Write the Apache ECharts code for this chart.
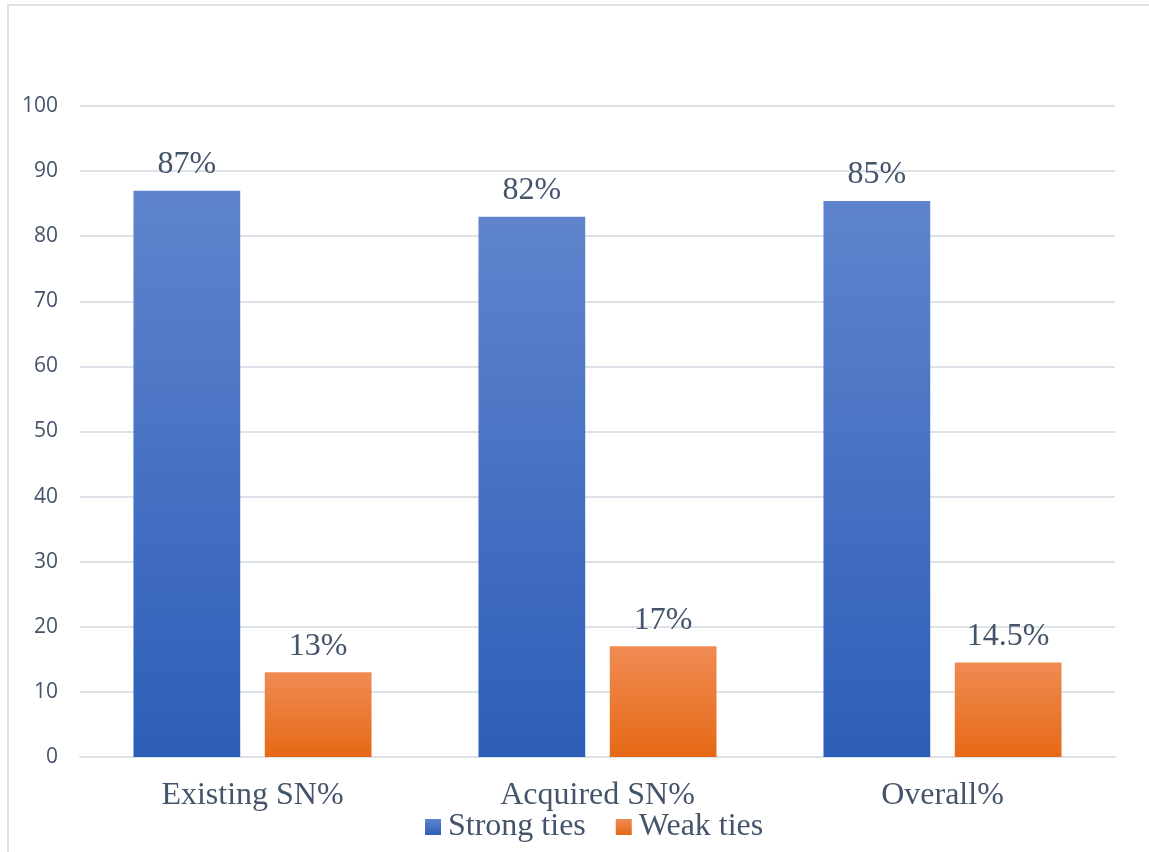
<!DOCTYPE html>
<html>
<head>
<meta charset="utf-8">
<script src="https://cdn.jsdelivr.net/npm/echarts@6/dist/echarts.min.js"></script>
<style>
  html, body { margin: 0; padding: 0; background: #fff; }
  #chart { width: 1149px; height: 852px; }
</style>
</head>
<body>
<div id="chart"></div>
<script>
const categories = ["Existing SN%", "Acquired SN%", "Overall%"];
const strongTies = [87, 83, 85.4];
const weakTies = [13, 17, 14.5];
const strongLabels = ["87%", "82%", "85%"];
const weakLabels = ["13%", "17%", "14.5%"];

const serif = "'Liberation Serif', 'DejaVu Serif', serif";
const textColor = "#44546a";

const chart = echarts.init(document.getElementById("chart"));

const option = {
    animation: false,
    // 外框
    graphic: [{
        type: "rect",
        shape: { x: 8, y: 5, width: 1200, height: 900 },
        style: { fill: "none", stroke: "#dde1e8", lineWidth: 2 },
        silent: true
    }],
    grid: {
        left: 80,
        right: 34,
        top: 106,
        bottom: 95,
        containLabel: false
    },
    legend: {
        bottom: 4,
        left: 420,
        itemWidth: 16,
        itemHeight: 16,
        itemGap: 30,
        icon: "rect",
        textStyle: { fontFamily: serif, fontSize: 32, color: textColor, padding: [0, 0, 0, 2] },
        data: ["Strong ties", "Weak ties"]
    },
    xAxis: {
        type: "category",
        data: categories,
        axisLine: { lineStyle: { color: "#dde1e8", width: 2 } },
        axisTick: { show: false },
        axisLabel: {
            fontFamily: serif,
            fontSize: 32,
            color: textColor,
            margin: 23
        }
    },
    yAxis: {
        type: "value",
        min: 0,
        max: 100,
        interval: 10,
        axisLine: { show: false },
        axisTick: { show: false },
        axisLabel: {
            fontFamily: "'Open Sans', 'DejaVu Sans', sans-serif",
            fontSize: 21,
            color: textColor,
            margin: 22
        },
        splitLine: { lineStyle: { color: "#dde1e8", width: 2 } }
    },
    series: [
        {
            name: "Strong ties",
            type: "bar",
            data: strongTies,
            barGap: "23%",
            barCategoryGap: "31%",
            itemStyle: {
                color: new echarts.graphic.LinearGradient(0, 0, 0, 1, [
                    { offset: 0, color: "#5f84cd" },
                    { offset: 1, color: "#2d5eb8" }
                ])
            },
            label: {
                show: true,
                position: "top",
                distance: 10,
                fontFamily: serif,
                fontSize: 32,
                color: textColor,
                formatter: (p) => strongLabels[p.dataIndex]
            }
        },
        {
            name: "Weak ties",
            type: "bar",
            data: weakTies,
            itemStyle: {
                color: new echarts.graphic.LinearGradient(0, 0, 0, 1, [
                    { offset: 0, color: "#f08b53" },
                    { offset: 1, color: "#e56916" }
                ])
            },
            label: {
                show: true,
                position: "top",
                distance: 10,
                fontFamily: serif,
                fontSize: 32,
                color: textColor,
                formatter: (p) => weakLabels[p.dataIndex]
            }
        }
    ]
};

chart.setOption(option);
window.addEventListener("resize", () => chart.resize());
</script>
</body>
</html>
